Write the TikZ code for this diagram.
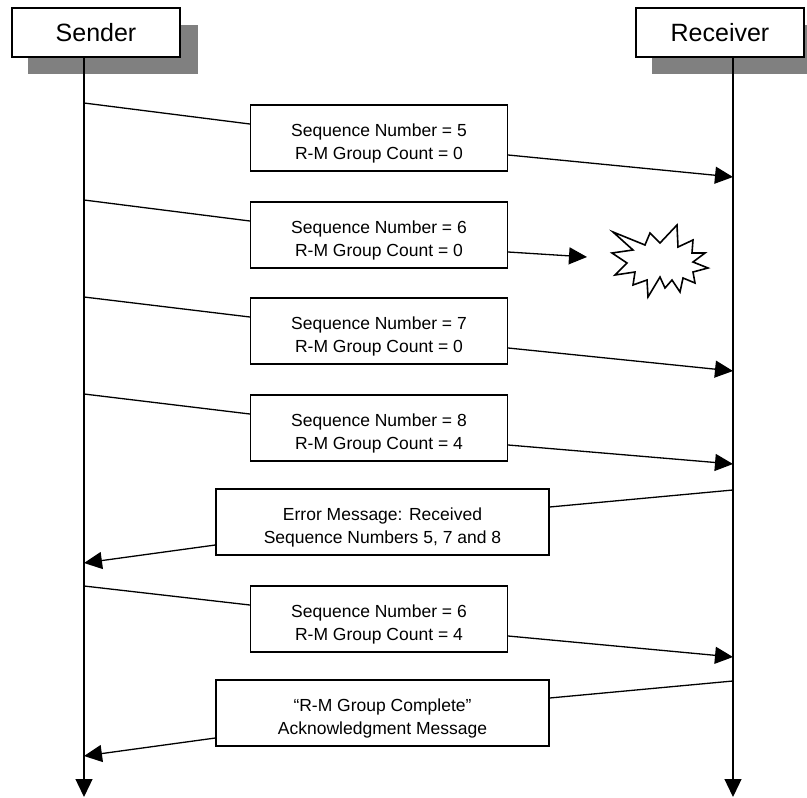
\documentclass[tikz,border=0pt]{standalone}
\usepackage{fontspec}
\setmainfont{Liberation Sans}
\usetikzlibrary{arrows.meta,calc}

\newcommand\lift{\rule{0pt}{24pt}}
\tikzset{
	head/.style={draw,fill=white,minimum width=168pt,minimum height=49pt,inner sep=0pt,font=\fontsize{25}{28}\selectfont},
	msg/.style={draw,fill=white,minimum height=66pt,inner sep=0pt,align=center,font=\fontsize{17.5}{23}\selectfont},
	tip/.style={-{Triangle[length=18pt,width=17pt]}},
}

\begin{document}
\begin{tikzpicture}[x=1pt,y=-1pt,line width=1.3pt]
		\useasboundingbox (0,0) rectangle (807,798);
		% heads with shadows
		\fill[gray] (28,25) rectangle (198,74);
		\fill[gray] (652,25) rectangle (807,74);
		\node[head] (sender) at (96,32.5) {Sender};
		\node[head] (receiver) at (720,32.5) {Receiver};
		\coordinate (stop) at (84,57);
		\coordinate (sbot) at (84,797);
		\coordinate (rtop) at (733,57);
		\coordinate (rbot) at (733,797);
		\draw[tip] (stop) -- (sbot);
		\draw[tip] (rtop) -- (rbot);
		% messages
		\node[msg,minimum width=257pt] (m5) at (379,138) {\lift Sequence Number = 5\\R-M Group Count = 0};
		\node[msg,minimum width=257pt] (m6) at (379,235) {\lift Sequence Number = 6\\R-M Group Count = 0};
		\node[msg,minimum width=257pt] (m7) at (379,331) {\lift Sequence Number = 7\\R-M Group Count = 0};
		\node[msg,minimum width=257pt] (m8) at (379,428) {\lift Sequence Number = 8\\R-M Group Count = 4};
		\node[msg,minimum width=333pt] (err) at (382.5,522) {\lift Error Message: Received\\Sequence Numbers 5, 7 and 8};
		\node[msg,minimum width=257pt] (m6b) at (379,619) {\lift Sequence Number = 6\\R-M Group Count = 4};
		\node[msg,minimum width=333pt] (ack) at (382.5,713) {\lift ``R-M Group Complete''\\Acknowledgment Message};
		% lost message
		\coordinate (s5) at (84,103);   \coordinate (r5) at (733,177);
		\coordinate (s6) at (84,200);   \coordinate (lost) at (587,257);
		\coordinate (s7) at (84,297);   \coordinate (r7) at (733,371);
		\coordinate (s8) at (84,394);   \coordinate (r8) at (733,464);
		\coordinate (rerr) at (733,490); \coordinate (serr) at (84,563);
		\coordinate (s6b) at (84,586);  \coordinate (r6b) at (733,657);
		\coordinate (rack) at (733,681); \coordinate (sack) at (84,756);
		\draw (s5) -- ($(m5.west)+(0,-14)$);
		\draw[tip] ($(m5.east)+(0,17)$) -- (r5);
		\draw (s6) -- ($(m6.west)+(0,-14)$);
		\draw[tip] ($(m6.east)+(0,17)$) -- (lost);
		\draw (s7) -- ($(m7.west)+(0,-14)$);
		\draw[tip] ($(m7.east)+(0,17)$) -- (r7);
		\draw (s8) -- ($(m8.west)+(0,-14)$);
		\draw[tip] ($(m8.east)+(0,17)$) -- (r8);
		\draw (rerr) -- ($(err.east)+(0,-15)$);
		\draw[tip] ($(err.west)+(0,23)$) -- (serr);
		\draw (s6b) -- ($(m6b.west)+(0,-14)$);
		\draw[tip] ($(m6b.east)+(0,17)$) -- (r6b);
		\draw (rack) -- ($(ack.east)+(0,-15)$);
		\draw[tip] ($(ack.west)+(0,25)$) -- (sack);
		% burst
		\draw[fill=white,line width=1.6pt,line join=miter] (613,232) -- (645,245) -- (650,233) -- (660,243) -- (677,225) -- (678,247)
		    -- (693,240) -- (692,253) -- (705,253) -- (693,262) -- (708,268) -- (693,272) -- (695,283)
		    -- (683,278) -- (680,292) -- (672,280) -- (665,288) -- (660,277) -- (648,297) -- (647,280)
		    -- (633,285) -- (635,272) -- (615,275) -- (627,263) -- (612,253) -- (633,250) -- cycle;
	\end{tikzpicture}
\end{document}
